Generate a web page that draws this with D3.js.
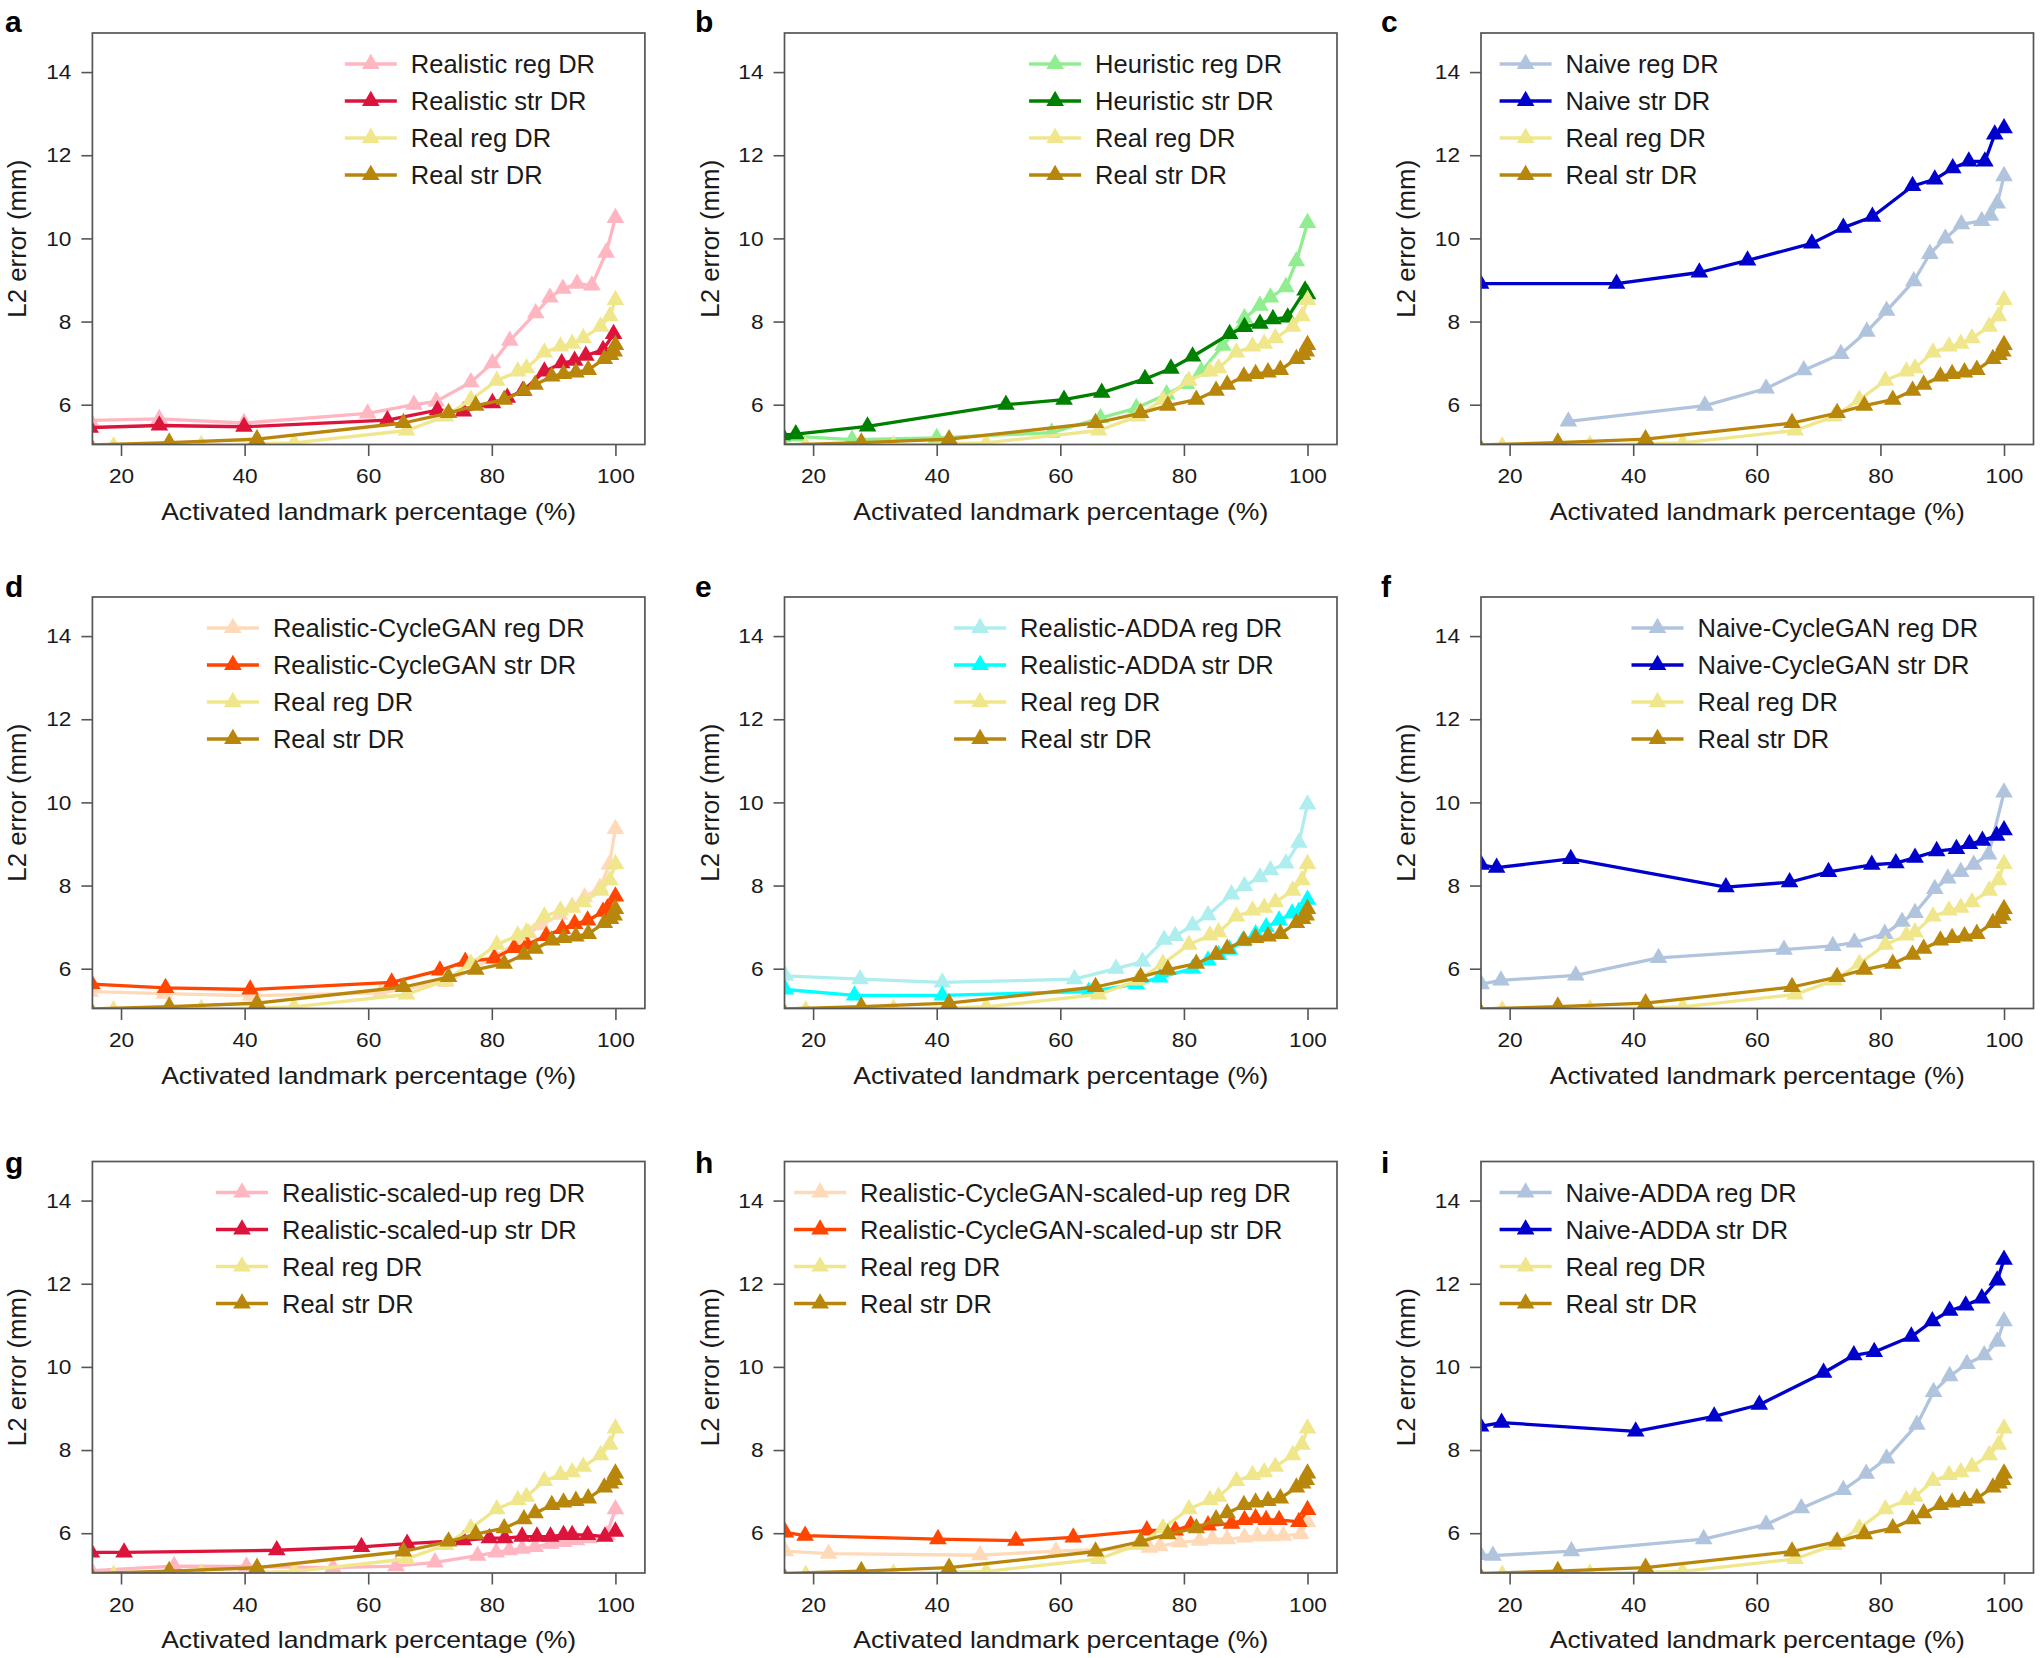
<!DOCTYPE html>
<html><head><meta charset="utf-8">
<script src="https://cdn.jsdelivr.net/npm/d3@7/dist/d3.min.js"></script>
<style>
body{margin:0;background:#fff}
svg{display:block}
text{font-family:"Liberation Sans",Arial,sans-serif;fill:#1a1a1a}
</style>
</head><body>
<svg id="chart" width="2040" height="1658"></svg>
<script>
// ---------- DATA: [activated landmark %, L2 error mm] ----------
const realReg = [[15,4.98],[18.8,5.0],[33,5.03],[48,5.08],[66.2,5.38],[72.5,5.72],[76.6,6.12],[80.8,6.58],[84.2,6.8],[85.6,6.88],[88.5,7.26],[91.1,7.4],[93,7.47],[94.8,7.6],[97.6,7.88],[99.1,8.13],[100,8.52]];
const realStr = [[15,5.03],[27.8,5.09],[42,5.17],[65.7,5.56],[73,5.8],[77.4,5.98],[82,6.12],[85.2,6.34],[87,6.48],[89.7,6.68],[91.6,6.74],[93.6,6.78],[95.6,6.84],[98.2,7.1],[99.2,7.2],[99.8,7.28],[100,7.44]];

const realisticReg = [[15,5.62],[26.2,5.66],[39.9,5.56],[59.9,5.79],[67.4,6.0],[71,6.08],[76.6,6.54],[80.1,7.0],[82.9,7.54],[87.1,8.2],[89.4,8.58],[91.5,8.79],[93.8,8.91],[96.2,8.87],[98.5,9.66],[100,10.49]];
const realisticStr = [[15,5.45],[26.2,5.5],[39.9,5.47],[63.1,5.63],[71.2,5.87],[75.4,5.84],[80.1,6.04],[82.5,6.17],[85,6.33],[88.5,6.8],[91.3,7.0],[93.4,7.06],[95.2,7.18],[98,7.32],[99.7,7.7]];

const heuristicReg = [[15,5.22],[17.2,5.24],[26.3,5.16],[40,5.2],[58.6,5.33],[66.5,5.68],[72.3,5.92],[77.2,6.25],[80.4,6.5],[82.8,6.8],[86.3,7.42],[89.8,8.08],[92.3,8.38],[94,8.58],[96.5,8.83],[98.2,9.45],[100,10.37]];
const heuristicStr = [[15,5.27],[17.2,5.29],[28.8,5.48],[51.2,6.0],[60.6,6.12],[66.7,6.29],[73.7,6.62],[77.9,6.87],[81.4,7.16],[87.4,7.7],[89.8,7.87],[92.3,7.95],[94.4,8.06],[96.8,8.1],[99.6,8.75],[100,8.66]];

const naiveReg = [[29.5,5.6],[51.6,5.98],[61.5,6.39],[67.6,6.83],[73.6,7.22],[77.8,7.76],[81,8.26],[85.4,8.97],[88,9.63],[90.5,10.0],[93.1,10.34],[96.4,10.42],[97.8,10.55],[98.9,10.84],[100,11.5]];
const naiveStr = [[15.3,8.91],[37.3,8.91],[50.7,9.18],[58.5,9.47],[68.9,9.88],[74,10.26],[78.7,10.52],[85.2,11.26],[88.8,11.42],[91.7,11.69],[94.3,11.85],[96.9,11.85],[98.5,12.5],[100,12.65]];

const realisticCycleReg = [[15,5.45],[27,5.4],[41,5.35],[62,5.42],[72.5,5.68],[77,6.0],[80.5,6.3],[84,6.62],[86,6.85],[88,7.05],[91,7.3],[93,7.5],[95,7.72],[97.5,7.95],[99,8.5],[100,9.36]];
const realisticCycleStr = [[15.3,5.63],[27.2,5.54],[40.9,5.5],[63.8,5.67],[71.6,5.96],[75.7,6.17],[80.4,6.25],[83.6,6.5],[85.7,6.58],[88.8,6.79],[91.4,6.96],[93.4,7.08],[95.5,7.16],[98,7.37],[98.7,7.45],[100,7.74]];

const realisticAddaReg = [[15.5,5.83],[27.6,5.75],[40.9,5.67],[62.3,5.75],[69,6.0],[73.3,6.17],[76.8,6.7],[78.6,6.79],[81.4,7.04],[83.9,7.29],[87.7,7.79],[89.8,7.99],[92.3,8.2],[94,8.37],[96.5,8.53],[98.6,9.03],[100,9.95]];
const realisticAddaStr = [[15.5,5.5],[26.7,5.36],[40.9,5.36],[64.6,5.45],[72.3,5.63],[76.1,5.79],[81.4,6.0],[83.9,6.2],[85.6,6.33],[87.4,6.46],[89.5,6.66],[91.6,6.83],[93.3,7.0],[95.4,7.16],[97.5,7.33],[98.6,7.37],[100,7.66]];

const naiveCycleReg = [[15.4,5.63],[18.6,5.72],[30.7,5.84],[44.1,6.26],[64.4,6.46],[72.3,6.55],[75.8,6.63],[80.7,6.84],[83.5,7.13],[85.6,7.34],[88.8,7.92],[90.9,8.17],[93,8.33],[95.1,8.5],[97.5,8.75],[100,10.24]];
const naiveCycleStr = [[15.4,8.5],[17.9,8.43],[29.9,8.64],[55,7.96],[65.3,8.08],[71.6,8.33],[78.6,8.5],[82.5,8.54],[85.6,8.67],[89.1,8.83],[92.3,8.88],[94.4,9.0],[96.5,9.08],[98.8,9.2],[100,9.33]];

const realisticScaledReg = [[15.2,5.1],[28.6,5.21],[40.3,5.2],[54.3,5.17],[64.5,5.21],[70.8,5.3],[77.7,5.46],[80.7,5.54],[82.8,5.59],[84.9,5.63],[87,5.67],[89.5,5.75],[91.6,5.79],[93.7,5.83],[95.8,5.88],[98.6,5.96],[100,6.58]];
const realisticScaledStr = [[15.2,5.54],[20.5,5.54],[45.2,5.59],[58.9,5.67],[66.3,5.75],[75.4,5.83],[79.6,5.88],[82.1,5.88],[84.9,5.92],[87.3,5.92],[89.5,5.92],[91.6,5.96],[93,5.96],[95.5,5.96],[98.3,5.92],[100,6.04]];

const cycleScaledReg = [[15.5,5.57],[22.5,5.51],[47,5.47],[59.3,5.57],[74.4,5.65],[76.1,5.69],[79.3,5.78],[82.5,5.82],[84.6,5.86],[87,5.86],[89.8,5.9],[91.9,5.93],[94,5.93],[96.1,5.94],[98.9,5.98],[100,6.27]];
const cycleScaledStr = [[15.5,6.02],[18.7,5.94],[40.2,5.86],[52.8,5.82],[62.1,5.9],[74,6.07],[78.6,6.07],[81.1,6.19],[83.9,6.19],[87.7,6.23],[89.8,6.32],[91.6,6.36],[93.3,6.32],[95.4,6.32],[98.6,6.27],[100,6.56]];

const naiveAddaReg = [[15.3,5.48],[17.3,5.46],[30,5.57],[51.4,5.86],[61.5,6.21],[67.2,6.6],[74,7.04],[77.7,7.43],[81,7.8],[85.9,8.61],[88.6,9.4],[91.2,9.78],[94,10.07],[96.8,10.28],[98.9,10.61],[100,11.1]];
const naiveAddaStr = [[15.3,8.57],[18.7,8.66],[40.4,8.45],[53.1,8.81],[60.4,9.09],[70.8,9.86],[75.7,10.28],[79,10.36],[85,10.73],[88.4,11.1],[91.2,11.35],[93.8,11.48],[96.4,11.65],[98.9,12.08],[100,12.58]];

const xTicks = [20, 40, 60, 80, 100];
const yTicks = [6, 8, 10, 12, 14];
const xTitle = "Activated landmark percentage (%)";
const yTitle = "L2 error (mm)";
const panelLetters = ["a","b","c","d","e","f","g","h","i"];
const panelNames = [
  ["Realistic reg DR", "Realistic str DR"],
  ["Heuristic reg DR", "Heuristic str DR"],
  ["Naive reg DR", "Naive str DR"],
  ["Realistic-CycleGAN reg DR", "Realistic-CycleGAN str DR"],
  ["Realistic-ADDA reg DR", "Realistic-ADDA str DR"],
  ["Naive-CycleGAN reg DR", "Naive-CycleGAN str DR"],
  ["Realistic-scaled-up reg DR", "Realistic-scaled-up str DR"],
  ["Realistic-CycleGAN-scaled-up reg DR", "Realistic-CycleGAN-scaled-up str DR"],
  ["Naive-ADDA reg DR", "Naive-ADDA str DR"]
];
const panelData = [
  [realisticReg, realisticStr],
  [heuristicReg, heuristicStr],
  [naiveReg, naiveStr],
  [realisticCycleReg, realisticCycleStr],
  [realisticAddaReg, realisticAddaStr],
  [naiveCycleReg, naiveCycleStr],
  [realisticScaledReg, realisticScaledStr],
  [cycleScaledReg, cycleScaledStr],
  [naiveAddaReg, naiveAddaStr]
];
const realNames = ["Real reg DR", "Real str DR"];

// ---------- STYLE / LAYOUT ----------
const panelColors = [
  ["#FFB6C1", "#DC143C"],
  ["#90EE90", "#008000"],
  ["#B0C4DE", "#0000CD"],
  ["#FFDAB9", "#FF4500"],
  ["#AFEEEE", "#00FFFF"],
  ["#B0C4DE", "#0000CD"],
  ["#FFB6C1", "#DC143C"],
  ["#FFDAB9", "#FF4500"],
  ["#B0C4DE", "#0000CD"]
];
const realColors = ["#F0E68C", "#B8860B"];
const colLeft = [92.4, 784.5, 1481];
const rowTop = [33, 597, 1161.5];
const labelX = [5, 695, 1381];
const labelBase = [32, 597, 1173];
const legendOffset = [252.4, 244.6, 18.6, 114.5, 169.6, 150.5, 123.6, 9.6, 18.6];
const W = 552.5, H = 411.5;

const svg = d3.select("#chart");
svg.append("rect").attr("width", 2040).attr("height", 1658).attr("fill", "#fff");

const x = d3.scaleLinear().domain([15.37, 104.77]).range([0, W]);
const y = d3.scaleLinear().domain([5.043, 14.94]).range([H, 0]);
const line = d3.line().x(d => x(d[0])).y(d => y(d[1]));
const tri = d3.symbol().type(d3.symbolTriangle).size(135);
const LW = 3.3;
const TS = 1.08; // tick label horizontal stretch

panelLetters.forEach((letter, i) => {
  const col = i % 3, row = Math.floor(i / 3);
  const g = svg.append("g").attr("transform", `translate(${colLeft[col]},${rowTop[row]})`);

  svg.append("text").attr("x", labelX[col]).attr("y", labelBase[row])
    .attr("font-size", 30).attr("font-weight", 900).style("fill", "#000").text(letter);

  const cid = "clip" + i;
  g.append("clipPath").attr("id", cid).append("rect").attr("width", W).attr("height", H);

  const series = [
    {name: panelNames[i][0], data: panelData[i][0], color: panelColors[i][0]},
    {name: panelNames[i][1], data: panelData[i][1], color: panelColors[i][1]},
    {name: realNames[0], data: realReg, color: realColors[0]},
    {name: realNames[1], data: realStr, color: realColors[1]}
  ];

  const plot = g.append("g").attr("clip-path", `url(#${cid})`);
  series.forEach(s => {
    const sg = plot.append("g");
    sg.append("path").datum(s.data).attr("d", line)
      .attr("fill", "none").attr("stroke", s.color).attr("stroke-width", LW)
      .attr("stroke-linejoin", "round");
    sg.selectAll("path.m").data(s.data).join("path").attr("class", "m")
      .attr("d", tri).attr("fill", s.color)
      .attr("transform", d => `translate(${x(d[0])},${y(d[1])})`);
  });

  const xa = g.append("g").attr("transform", `translate(0,${H})`)
    .call(d3.axisBottom(x).tickValues(xTicks).tickSize(11.5).tickPadding(12.5).tickFormat(d3.format("d")));
  const ya = g.append("g")
    .call(d3.axisLeft(y).tickValues(yTicks).tickSize(11).tickPadding(10).tickFormat(d3.format("d")));
  [xa, ya].forEach(a => {
    a.select(".domain").remove();
    a.selectAll("line").attr("stroke", "#555").attr("stroke-width", 1.6);
    a.selectAll("text").attr("font-size", 21).attr("font-family", null).style("fill", "#1a1a1a");
  });
  xa.selectAll("text").attr("transform", `scale(${TS},1)`);
  ya.selectAll("text").attr("x", -21 / TS).attr("transform", `scale(${TS},1)`);

  g.append("rect").attr("width", W).attr("height", H)
    .attr("fill", "none").attr("stroke", "#555").attr("stroke-width", 1.7);

  g.append("text").attr("text-anchor", "middle")
    .attr("x", W / 2).attr("y", H + 75)
    .attr("font-size", 24).attr("textLength", 415).attr("lengthAdjust", "spacingAndGlyphs")
    .text(xTitle);
  g.append("text").attr("text-anchor", "middle")
    .attr("transform", `translate(-66,${H / 2}) rotate(-90)`)
    .attr("x", 0).attr("y", 0)
    .attr("font-size", 25.5).attr("textLength", 158).attr("lengthAdjust", "spacingAndGlyphs")
    .text(yTitle);

  const lg = g.append("g").attr("transform", `translate(${legendOffset[i]},31)`);
  series.forEach((s, k) => {
    const r = lg.append("g").attr("transform", `translate(0,${k * 37})`);
    r.append("line").attr("x1", 0).attr("x2", 52).attr("y1", 0).attr("y2", 0)
      .attr("stroke", s.color).attr("stroke-width", LW);
    r.append("path").attr("d", tri).attr("fill", s.color).attr("transform", "translate(26,0)");
    r.append("text").attr("x", 66).attr("y", 9).attr("font-size", 25.5).text(s.name);
  });
});
</script>
</body></html>
